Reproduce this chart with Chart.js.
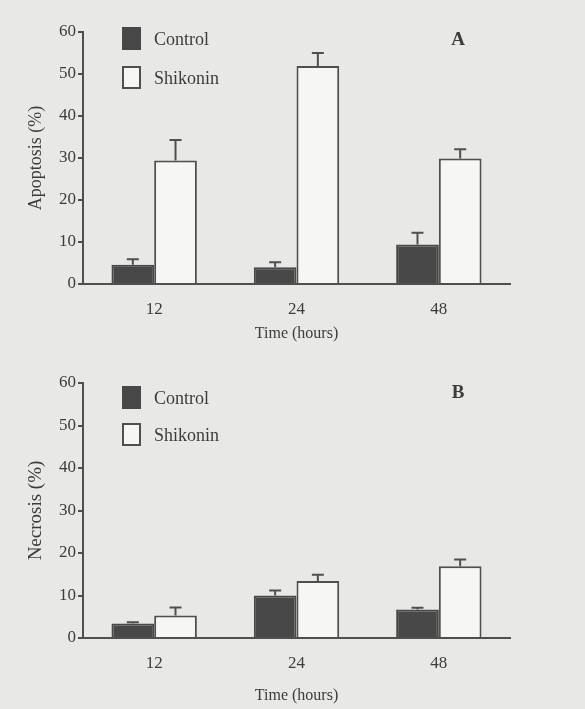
<!DOCTYPE html>
<html>
<head>
<meta charset="utf-8">
<script src="https://cdn.jsdelivr.net/npm/chart.js@4.4.1/dist/chart.umd.min.js"></script>
<style>
  html, body { margin: 0; padding: 0; background: #e8e8e6; }
  body { width: 585px; height: 709px; position: relative; overflow: hidden; }
  canvas { position: absolute; left: 0; }
  #chartA { top: 0; }
  #chartB { top: 345px; }
</style>
</head>
<body>
<canvas id="chartA" width="585" height="345"></canvas>
<canvas id="chartB" width="585" height="364"></canvas>
<script>
// values (percent, mean + upper error)
const hours = ['12', '24', '48'];
const seriesNames = ['Control', 'Shikonin'];
const yTicks = [0, 10, 20, 30, 40, 50, 60];

const apoptosisControl = [4.6, 4.0, 9.4];
const apoptosisControlErr = [1.3, 1.2, 2.8];
const apoptosisShikonin = [29.4, 51.9, 29.9];
const apoptosisShikoninErr = [4.9, 3.1, 2.2];

const necrosisControl = [3.4, 10.0, 6.7];
const necrosisControlErr = [0.3, 1.2, 0.4];
const necrosisShikonin = [5.3, 13.4, 16.9];
const necrosisShikoninErr = [1.9, 1.5, 1.6];

const ink = '#4f4f4f';
const textInk = '#3c3c3c';
const serif = '"Liberation Serif", "Times New Roman", serif';

// upward error bars with a small cap
const errorBars = {
    id: 'errorBars',
    afterDatasetsDraw(chart) {
        const ctx = chart.ctx;
        const y = chart.scales.y;
        ctx.save();
        ctx.strokeStyle = ink;
        ctx.lineWidth = 2;
        chart.data.datasets.forEach((ds, i) => {
            chart.getDatasetMeta(i).data.forEach((bar, j) => {
                const top = y.getPixelForValue(ds.data[j] + ds.errors[j]);
                ctx.beginPath();
                ctx.moveTo(bar.x, bar.y);
                ctx.lineTo(bar.x, top);
                ctx.moveTo(bar.x - 6, top);
                ctx.lineTo(bar.x + 6, top);
                ctx.stroke();
            });
        });
        ctx.restore();
    }
};

// legend boxes inside the plot and the panel letter
const panelLegend = {
    id: 'panelLegend',
    afterDraw(chart, args, opts) {
        const ctx = chart.ctx;
        ctx.save();
        chart.data.datasets.forEach((ds, i) => {
            const top = opts.tops[i];
            ctx.fillStyle = ds.backgroundColor;
            ctx.fillRect(123, top, 17, 21);
            ctx.strokeStyle = ds.borderColor;
            ctx.lineWidth = 2;
            ctx.strokeRect(123, top, 17, 21);
            ctx.fillStyle = textInk;
            ctx.font = '18px ' + serif;
            ctx.textBaseline = 'middle';
            ctx.fillText(ds.label, 154, top + 12);
        });
        ctx.font = 'bold 19px ' + serif;
        ctx.textAlign = 'center';
        ctx.fillText(opts.letter, 458, opts.letterY);
        ctx.restore();
    }
};

function makeChart(id, cfg) {
    const ctx = document.getElementById(id).getContext('2d');
    return new Chart(ctx, {
        type: 'bar',
        data: {
            labels: hours,
            datasets: [{
                label: seriesNames[0],
                data: cfg.control,
                errors: cfg.controlErr,
                backgroundColor: '#484848',
                borderColor: '#484848',
                borderWidth: 2
            }, {
                label: seriesNames[1],
                data: cfg.shikonin,
                errors: cfg.shikoninErr,
                backgroundColor: '#f6f6f4',
                borderColor: ink,
                borderWidth: 2
            }]
        },
        options: {
            responsive: false,
            animation: false,
            categoryPercentage: 0.6,
            barPercentage: 1.0,
            layout: { padding: { top: cfg.padTop, right: 75, left: 0, bottom: cfg.padBottom } },
            plugins: {
                legend: { display: false },
                tooltip: { enabled: false },
                panelLegend: { tops: cfg.legendTops, letter: cfg.letter, letterY: cfg.letterY }
            },
            scales: {
                x: {
                    grid: { display: false },
                    border: { display: true, color: ink, width: 2 },
                    ticks: { color: textInk, padding: 7, font: { family: serif, size: 17 } },
                    title: {
                        display: true,
                        text: 'Time (hours)',
                        color: textInk,
                        padding: { top: 0, bottom: 0 },
                        font: { family: serif, size: 16 }
                    },
                    afterFit: (scale) => { scale.height = cfg.xHeight; }
                },
                y: {
                    min: 0,
                    max: 60,
                    afterBuildTicks: (scale) => { scale.ticks = yTicks.map(v => ({ value: v })); },
                    grid: { drawOnChartArea: false, drawTicks: true, tickLength: 5, color: ink, lineWidth: 2 },
                    border: { display: true, color: ink, width: 2 },
                    ticks: { color: textInk, padding: 2, font: { family: serif, size: 17 } },
                    title: {
                        display: true,
                        text: cfg.yTitle,
                        color: textInk,
                        padding: { top: 25, bottom: 0 },
                        font: { family: serif, size: cfg.yTitleSize }
                    },
                    afterFit: (scale) => { scale.width = 83; }
                }
            }
        },
        plugins: [errorBars, panelLegend]
    });
}

makeChart('chartA', {
    control: apoptosisControl,
    controlErr: apoptosisControlErr,
    shikonin: apoptosisShikonin,
    shikoninErr: apoptosisShikoninErr,
    yTitle: 'Apoptosis (%)',
    yTitleSize: 18,
    padTop: 32,
    padBottom: 2,
    xHeight: 59,
    legendTops: [28, 67],
    letter: 'A',
    letterY: 40
});

makeChart('chartB', {
    control: necrosisControl,
    controlErr: necrosisControlErr,
    shikonin: necrosisShikonin,
    shikoninErr: necrosisShikoninErr,
    yTitle: 'Necrosis (%)',
    yTitleSize: 19,
    padTop: 38,
    padBottom: 4,
    xHeight: 67,
    legendTops: [42, 79],
    letter: 'B',
    letterY: 48
});
</script>
</body>
</html>
